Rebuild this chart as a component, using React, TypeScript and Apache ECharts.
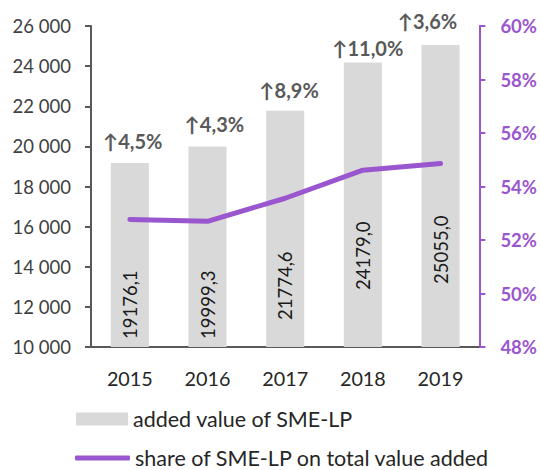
import React, { useEffect, useRef } from "react";
import * as echarts from "echarts";

const years = ["2015", "2016", "2017", "2018", "2019"];
const addedValue = [19176.1, 19999.3, 21774.6, 24179.0, 25055.0];
const growthPct = [4.5, 4.3, 8.9, 11.0, 3.6];
const sharePct = [52.77, 52.7, 53.56, 54.61, 54.86];
const leftTicks = { min: 10000, max: 26000, interval: 2000 };
const rightTicks = { min: 48, max: 60, interval: 2 };

// label styling nudges (presentation only)
const valueLabelLift = [8, 8, 27, 57, 63];
const growthNudge = [
  [3, 0],
  [7, 0],
  [4, 1],
  [5, 7],
  [-13, -2],
];

const PURPLE = "#9A56CE";
const GRAY_AXIS = "#595959";
const FONT = 'Lato, "Open Sans", sans-serif';
const BAR_NAME = "added value of SME-LP";
const LINE_NAME = "share of SME-LP on total value added";

const comma = (v: number) => v.toFixed(1).replace(".", ",");

export default function App() {
  const ref = useRef<HTMLDivElement>(null);
  useEffect(() => {
    if (!ref.current) return;
    const chart = echarts.init(ref.current, undefined, { renderer: "svg" });
    const legendText = { fontSize: 21.5, color: "#262626", fontFamily: FONT, lineHeight: 22 };
    chart.setOption({
      animation: false,
      textStyle: { fontFamily: FONT },
      grid: { left: 91, right: 58, top: 26, bottom: 123 },
      legend: [
        {
          left: 76,
          top: 408,
          padding: 0,
          itemWidth: 52,
          itemHeight: 13,
          itemGap: 6,
          textStyle: legendText,
          selectedMode: false,
          data: [{ name: BAR_NAME, icon: "rect" }],
        },
        {
          left: 75,
          top: 447,
          padding: 0,
          itemWidth: 55,
          itemHeight: 5,
          textStyle: legendText,
          selectedMode: false,
          data: [{ name: LINE_NAME, icon: "roundRect", itemStyle: { color: PURPLE } }],
        },
      ],
      xAxis: {
        type: "category",
        data: years,
        axisLine: { lineStyle: { color: GRAY_AXIS, width: 2 } },
        axisTick: { show: false },
        axisLabel: { fontSize: 19.8, color: "#262626", margin: 21 },
      },
      yAxis: [
        {
          type: "value",
          min: leftTicks.min,
          max: leftTicks.max,
          interval: leftTicks.interval,
          axisLine: { show: true, lineStyle: { color: GRAY_AXIS, width: 2 } },
          axisTick: { show: true, length: 6, lineStyle: { color: GRAY_AXIS, width: 2 } },
          splitLine: { show: false },
          axisLabel: {
            fontSize: 18.5,
            color: "#404040",
            margin: 20,
            formatter: (v: number) => String(v).replace(/\B(?=(\d{3})+(?!\d))/g, " "),
          },
        },
        {
          type: "value",
          position: "right",
          min: rightTicks.min,
          max: rightTicks.max,
          interval: rightTicks.interval,
          axisLine: { show: true, lineStyle: { color: PURPLE, width: 2 } },
          axisTick: { show: true, length: 6, lineStyle: { color: PURPLE, width: 2 } },
          splitLine: { show: false },
          axisLabel: {
            fontSize: 18.5,
            fontWeight: "bold",
            color: PURPLE,
            margin: 21,
            formatter: "{value}%",
          },
        },
      ],
      series: [
        {
          name: BAR_NAME,
          type: "bar",
          barWidth: "49%",
          itemStyle: { color: "#D9D9D9" },
          data: addedValue.map((v, i) => ({
            value: v,
            label: {
              show: true,
              position: "insideBottom",
              distance: valueLabelLift[i],
              rotate: 90,
              align: "left",
              verticalAlign: "middle",
              fontSize: 18.5,
              color: "#1a1a1a",
              formatter: comma(v),
            },
          })),
        },
        {
          name: "growth",
          type: "bar",
          barWidth: "49%",
          barGap: "-100%",
          silent: true,
          itemStyle: { color: "rgba(0,0,0,0)" },
          data: addedValue.map((v, i) => ({
            value: v,
            label: {
              show: true,
              position: "top",
              distance: 12,
              offset: growthNudge[i],
              fontSize: 20,
              fontWeight: "bold",
              color: "#595959",
              formatter: "↑" + comma(growthPct[i]) + "%",
            },
          })),
        },
        {
          name: LINE_NAME,
          type: "line",
          yAxisIndex: 1,
          symbol: "none",
          data: sharePct,
          itemStyle: { color: PURPLE },
          lineStyle: { color: PURPLE, width: 5, cap: "round", join: "round" },
          z: 5,
        },
      ],
    });
    return () => chart.dispose();
  }, []);
  return (
    <div
      ref={ref}
      style={{ position: "fixed", left: 0, top: 0, width: 540, height: 470, background: "#fff" }}
    />
  );
}
